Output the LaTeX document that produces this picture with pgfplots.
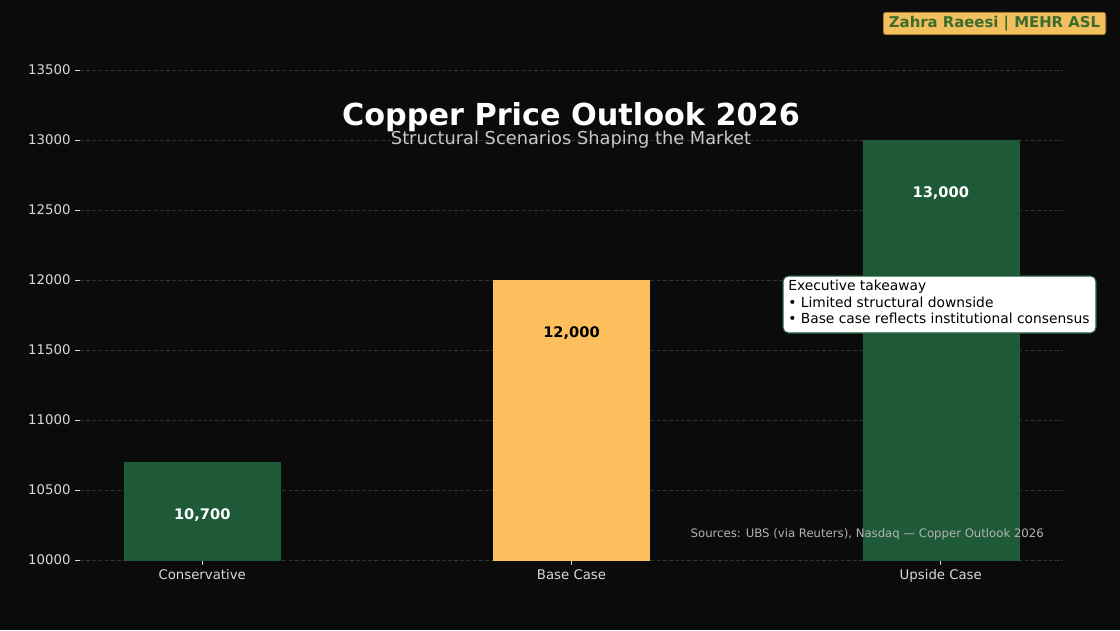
\documentclass[border=0pt]{standalone}
\usepackage{pgfplots}
\pgfplotsset{compat=1.18}
\usepackage{fontspec}
\setmainfont{DejaVu Sans}

\definecolor{bg}{HTML}{0B0B0B}
\definecolor{copper}{HTML}{1F5A38}
\definecolor{amber}{HTML}{FDBF5E}
\definecolor{ticktext}{HTML}{D9D9D9}
\definecolor{gridc}{HTML}{313131}
\definecolor{subtxt}{HTML}{C8C8C8}
\definecolor{srctxt}{HTML}{B4B4B4}
\definecolor{badgetext}{HTML}{3D6B2C}
\definecolor{badgefill}{HTML}{F2C05E}
\definecolor{badgeedge}{HTML}{7A5A22}

\begin{document}
\begin{tikzpicture}[x=0.75bp,y=0.75bp]
% canvas
\fill[bg] (0,0) rectangle (1120,630);

\begin{axis}[
  at={(60bp,52.5bp)}, anchor=south west,
  scale only axis, width=737.25bp, height=383.25bp,
  xmin=-0.331, xmax=2.331, ymin=10000, ymax=13650,
  axis x line*=bottom, axis y line*=left,
  axis line style={draw=none},
  tick align=outside, major tick length=3.6bp,
  tick style={color=ticktext, line width=0.6pt},
  xtick={0,1,2},
  xticklabels={Conservative, Base Case, Upside Case},
  ytick={10000,10500,...,13500},
  scaled y ticks=false,
  /pgf/number format/1000 sep={},
  /pgf/number format/assume math mode=true,
  ticklabel style={font=\fontsize{10}{12}\selectfont, color=ticktext},
  ymajorgrids, major grid style={gridc, line width=0.6pt, dash pattern=on 3bp off 1.6bp},
  ybar, bar width=117bp, bar shift=0pt,
  nodes near coords={\pgfmathprintnumber[1000 sep={,}]{\pgfplotspointmeta}},
  every node near coord/.append style={anchor=center, yshift=-39.5bp,
    font=\fontsize{11}{13}\selectfont\bfseries},
]
\addplot[fill=copper, draw=copper, every node near coord/.append style={text=white}]
  coordinates {(0,10700) (2,13000)};
\addplot[fill=amber, draw=amber, every node near coord/.append style={text=black}]
  coordinates {(1,12000)};
\end{axis}

% titles
\node[anchor=base, text=white, font=\fontsize{22.8}{27}\selectfont\bfseries]
  at (571,504) {Copper Price Outlook 2026};
\node[anchor=base, text=subtxt, font=\fontsize{13.4}{15}\selectfont]
  at (571,485) {Structural Scenarios Shaping the Market};

% author badge
\node[fill=badgefill, draw=badgeedge, rounded corners=2bp, line width=0.6pt,
      minimum width=167bp, minimum height=17bp, inner sep=0pt,
      text=badgetext, font=\fontsize{11.2}{13}\selectfont\bfseries]
  at (994.5,606.5) {Zahra Raeesi | MEHR ASL};

% executive takeaway box
\draw[fill=white, draw=copper, rounded corners=4bp, line width=0.8pt]
  (783,354) rectangle (1096,297);
\node[anchor=north west, align=left, inner sep=0pt, text=black,
      font=\fontsize{10.4}{12.4}\selectfont]
  at (788,350) {Executive takeaway\\• Limited structural downside\\• Base case reflects institutional consensus};

% sources
\node[anchor=east, inner sep=0pt, text=srctxt, font=\fontsize{8.8}{10}\selectfont]
  at (1044,96) {Sources: UBS (via Reuters), Nasdaq — Copper Outlook 2026};
\end{tikzpicture}
\end{document}
